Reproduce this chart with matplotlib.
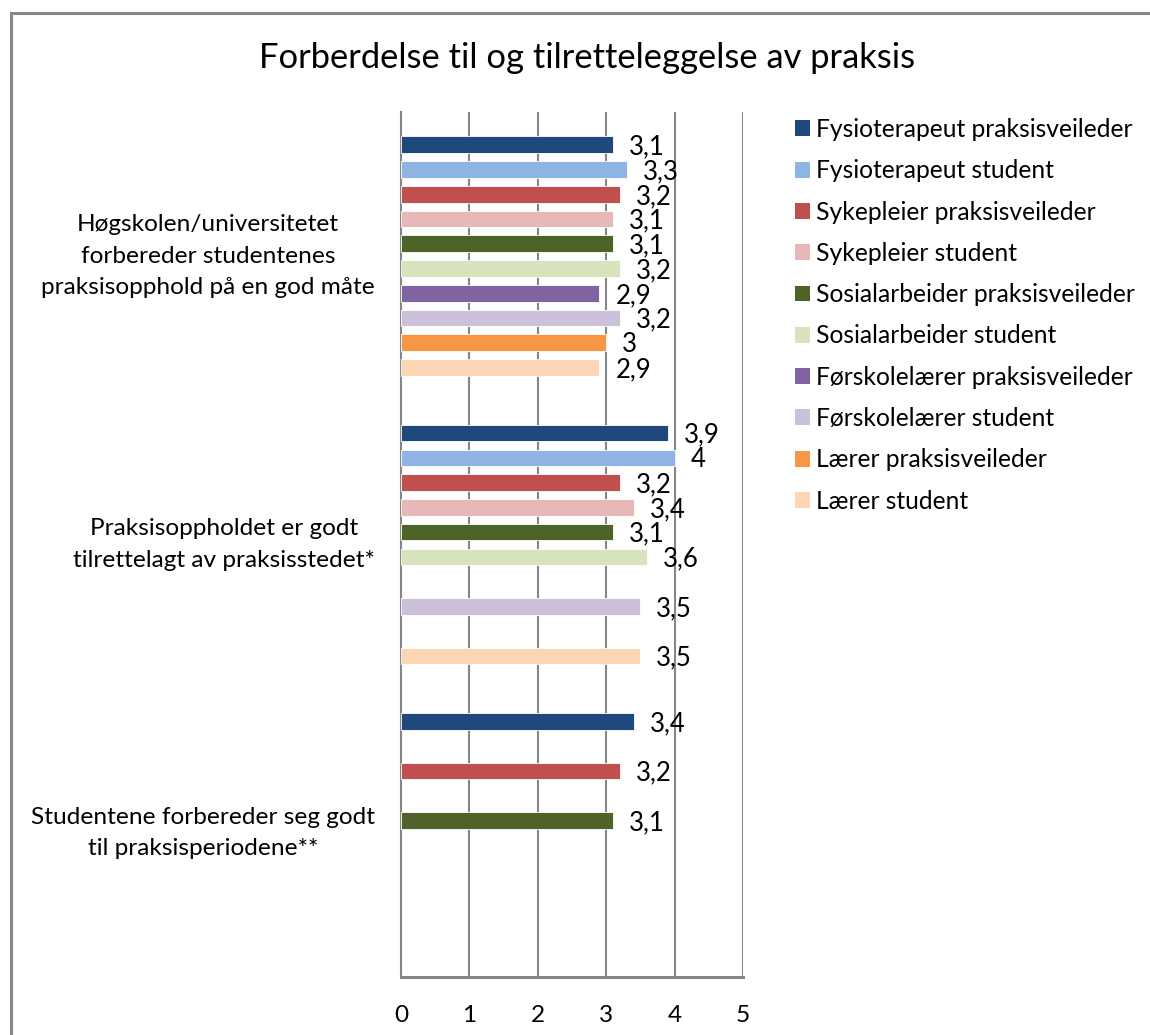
import numpy as np
import matplotlib
matplotlib.use("Agg")
import matplotlib.pyplot as plt
from matplotlib.patches import Patch, Rectangle

plt.rcParams['font.family'] = ['Lato', 'DejaVu Sans']

title = "Forberdelse til og tilretteleggelse av praksis"
categories = [
    "Høgskolen/universitetet\nforbereder studentenes\npraksisopphold på en god måte",
    "Praksisoppholdet er godt\ntilrettelagt av praksisstedet*",
    "Studentene forbereder seg godt\ntil praksisperiodene**",
]
series_names = [
    "Fysioterapeut praksisveileder",
    "Fysioterapeut student",
    "Sykepleier praksisveileder",
    "Sykepleier student",
    "Sosialarbeider praksisveileder",
    "Sosialarbeider student",
    "Førskolelærer praksisveileder",
    "Førskolelærer student",
    "Lærer praksisveileder",
    "Lærer student",
]
nan = np.nan
# values per series: [cat1, cat2, cat3]
values = [
    [3.1, 3.9, 3.4],
    [3.3, 4.0, nan],
    [3.2, 3.2, 3.2],
    [3.1, 3.4, nan],
    [3.1, 3.1, 3.1],
    [3.2, 3.6, nan],
    [2.9, nan, nan],
    [3.2, 3.5, nan],
    [3.0, nan, nan],
    [2.9, 3.5, nan],
]
colors = ["#1F497D", "#8EB4E3", "#C0504D", "#E6B9B8", "#4F6228",
          "#D7E4BD", "#8064A2", "#CCC1DA", "#F79646", "#FCD5B5"]
xticks = [0, 1, 2, 3, 4, 5]

FS = 17.6
W, H = 1150, 1035
fig = plt.figure(figsize=(W / 100, H / 100), dpi=100)
ax = fig.add_axes([401 / W, 1 - 977 / H, 342 / W, 865 / H])

# outer frame
fig.patches.append(Rectangle((11 / W, -0.1), 1.2, (H - 12.5) / H + 0.1,
                             transform=fig.transFigure, fill=False,
                             edgecolor="#888888", linewidth=2.2, zorder=0))

n = len(series_names)
slot = 24.75 / 288.33
bar_h = 16.7 / 288.33
ycat = np.arange(len(categories))
for j, (name, vals, c) in enumerate(zip(series_names, values, colors)):
    ypos = ycat + (j - (n - 1) / 2) * slot
    vals = np.array(vals, dtype=float)
    ax.barh(ypos, vals, height=bar_h, color=c, edgecolor="white",
            linewidth=0.6, label=name, zorder=3)
    for y, v in zip(ypos, vals):
        if np.isnan(v):
            continue
        ax.annotate(f"{v:g}".replace(".", ","), (v, y), xytext=(11.5, -1.5),
                    textcoords="offset points", ha="left", va="center",
                    fontsize=18.5, color="#000000", zorder=4)

ax.set_xlim(0, 5)
ax.set_ylim(len(categories) - 0.5, -0.5)
ax.set_xticks(xticks)
ax.set_xticklabels([str(t) for t in xticks])
ax.set_yticks(ycat)
ax.set_yticklabels([])
for yc, lab in zip(ycat, categories):
    ax.annotate(lab, xy=(0, yc), xycoords=("axes fraction", "data"),
                xytext=(-18.7, 0), textcoords="offset points",
                ha="right", va="center", multialignment="center",
                linespacing=1.62, fontsize=FS, color="#000000")
ax.tick_params(axis="both", length=0, labelsize=FS, colors="#000000")
ax.tick_params(axis="x", pad=20)
ax.grid(axis="x", color="#868686", linewidth=1.5, zorder=1)
ax.set_axisbelow(True)
for s in ["top", "right"]:
    ax.spines[s].set_visible(False)
ax.spines["left"].set_color("#868686")
ax.spines["left"].set_linewidth(1.5)
ax.spines["bottom"].set_color("#868686")
ax.spines["bottom"].set_linewidth(2.2)

fig.text(587 / W, 1 - 58 / H, title, ha="center", va="center", fontsize=24.8)

handles = [Patch(facecolor=c, edgecolor="none") for c in colors]
fig.legend(handles, series_names, loc="upper left",
           bbox_to_anchor=(795 / W, 1 - 118 / H), frameon=False,
           fontsize=17.7, handlelength=0.61, handleheight=0.61,
           handletextpad=0.25, labelspacing=0.744, borderaxespad=0,
           borderpad=0)

fig.savefig("out.png", dpi=100)
